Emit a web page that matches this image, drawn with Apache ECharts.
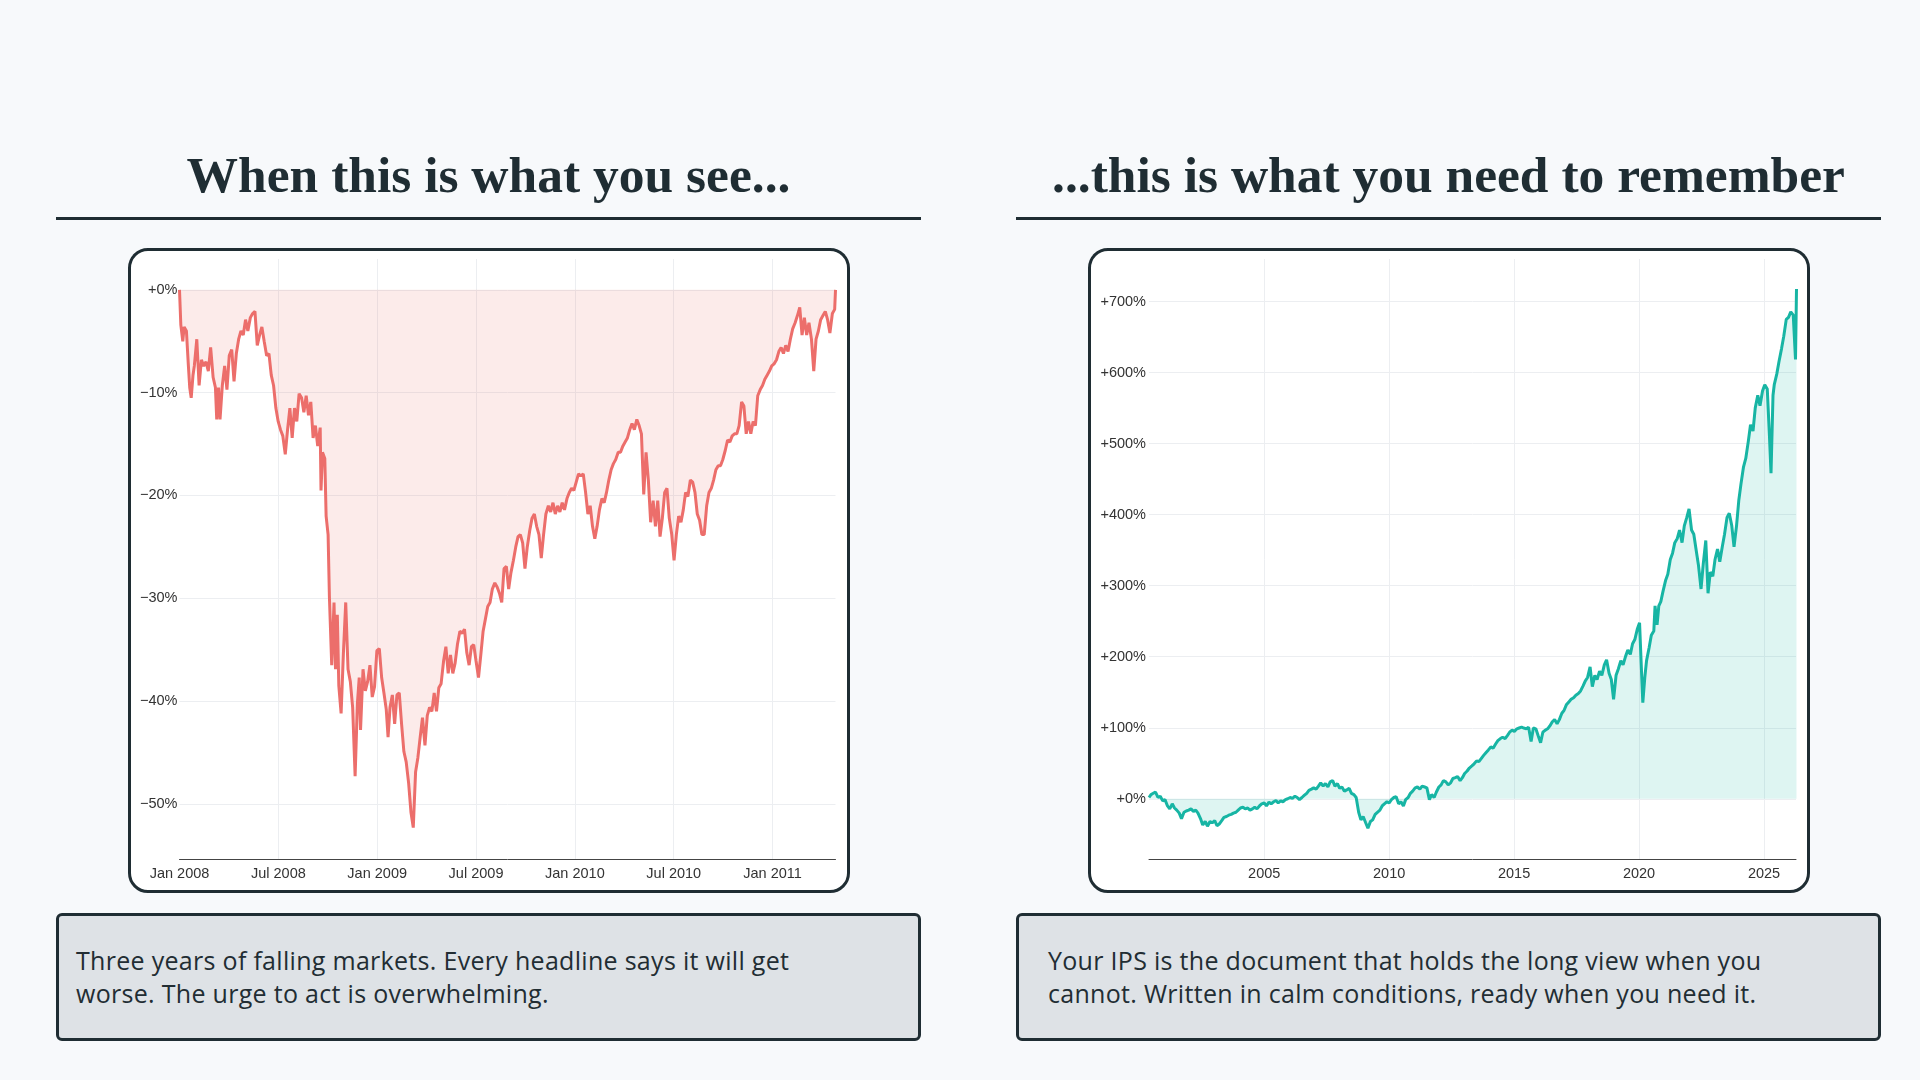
<!DOCTYPE html>
<html>
<head>
<meta charset="utf-8">
<title>When this is what you see</title>
<script src="https://cdn.jsdelivr.net/npm/echarts@6/dist/echarts.min.js"></script>
<style>
  html, body { margin: 0; padding: 0; }
  body {
    width: 1920px;
    height: 1080px;
    background: #f7f9fb;
    position: relative;
    overflow: hidden;
  }
  .title {
    position: absolute;
    top: 149px;
    width: 865px;
    text-align: center;
    font-family: "Liberation Serif", serif;
    font-weight: 700;
    font-size: 51.5px;
    line-height: 51px;
    color: #1f2d33;
    white-space: nowrap;
  }
  .rule {
    position: absolute;
    top: 217px;
    width: 865px;
    height: 3px;
    background: #1f2d33;
  }
  .card {
    position: absolute;
    top: 248px;
    width: 722px;
    height: 645px;
    box-sizing: border-box;
    border: 3px solid #1f2d33;
    border-radius: 20px;
    background: #ffffff;
  }
  .chart {
    position: absolute;
    top: 248px;
    width: 722px;
    height: 645px;
  }
  .note {
    position: absolute;
    top: 913px;
    width: 865px;
    height: 128px;
    box-sizing: border-box;
    border: 3px solid #1f2d33;
    border-radius: 6px;
    background: #dee2e6;
    display: flex;
    align-items: center;
    font-family: "Open Sans", sans-serif;
    font-size: 25px;
    letter-spacing: 0.3px;
    line-height: 33px;
    color: #222d33;
  }
</style>
</head>
<body>
  <div class="title" style="left:56px">When this is what you see...</div>
  <div class="rule" style="left:56px"></div>
  <div class="title" style="left:1016px">...this is what you need to remember</div>
  <div class="rule" style="left:1016px"></div>

  <div class="card" style="left:128px"></div>
  <div class="card" style="left:1088px"></div>
  <div id="drawdown" class="chart" style="left:128px"></div>
  <div id="growth" class="chart" style="left:1088px"></div>

  <div class="note" style="left:56px; padding-left:17px">
    <div>Three years of falling markets. Every headline says it will get<br>worse. The urge to act is overwhelming.</div>
  </div>
  <div class="note" style="left:1016px; padding-left:29px">
    <div>Your IPS is the document that holds the long view when you<br>cannot. Written in calm conditions, ready when you need it.</div>
  </div>

<script>
// left panel: drawdown from Jan 2008, x = months since Jan 2008
const ddMonths = [
  0.00, 0.08, 0.20, 0.28, 0.42, 0.54, 0.62, 0.71, 0.82, 0.90,
  1.05, 1.19, 1.33, 1.47, 1.61, 1.75, 1.89,
  2.04, 2.18, 2.26, 2.37, 2.46, 2.60, 2.74, 2.88,
  3.02, 3.17, 3.31, 3.45, 3.59, 3.73, 3.87,
  4.01, 4.15, 4.30, 4.44, 4.58, 4.72, 4.86,
  5.00, 5.14, 5.29, 5.43, 5.57, 5.71, 5.85, 5.99,
  6.13, 6.27, 6.42, 6.56, 6.70, 6.84, 6.98,
  7.12, 7.26, 7.41, 7.55, 7.69, 7.83, 7.97,
  8.11, 8.25, 8.39, 8.54, 8.59, 8.68, 8.82, 8.90,
  9.02, 9.10, 9.24, 9.38, 9.47, 9.58, 9.67, 9.81, 9.95,
  10.09, 10.23, 10.37, 10.51, 10.66, 10.80, 10.91, 10.99,
  11.14, 11.28, 11.42, 11.56, 11.70, 11.84, 11.98,
  12.13, 12.27, 12.41, 12.55, 12.66, 12.78, 12.92,
  13.06, 13.20, 13.34, 13.48, 13.62, 13.76, 13.91,
  14.05, 14.19, 14.33, 14.47, 14.61, 14.75, 14.90,
  15.04, 15.18, 15.32, 15.46, 15.60, 15.74, 15.88,
  16.03, 16.17, 16.31, 16.45, 16.59, 16.73, 16.87,
  17.02, 17.16, 17.30, 17.44, 17.58, 17.72, 17.86,
  18.00, 18.15, 18.29, 18.43, 18.57, 18.71, 18.85,
  18.99, 19.14, 19.28, 19.42, 19.56, 19.70, 19.84, 19.98,
  20.12, 20.27, 20.41, 20.55, 20.69, 20.83, 20.97,
  21.11, 21.26, 21.40, 21.54, 21.68, 21.82, 21.96,
  22.10, 22.24, 22.39, 22.53, 22.67, 22.81, 22.95,
  23.09, 23.23, 23.37, 23.52, 23.66, 23.80, 23.94,
  24.08, 24.22, 24.36, 24.51, 24.65, 24.79, 24.93,
  25.07, 25.21, 25.35, 25.49, 25.64, 25.78, 25.92,
  26.06, 26.20, 26.34, 26.48, 26.63, 26.77, 26.91,
  27.05, 27.19, 27.33, 27.47, 27.61, 27.76, 27.90,
  28.04, 28.18, 28.32, 28.46, 28.60, 28.75, 28.89,
  29.03, 29.17, 29.31, 29.45, 29.59, 29.73, 29.88,
  30.02, 30.16, 30.30, 30.44, 30.58, 30.72, 30.86,
  31.01, 31.15, 31.29, 31.43, 31.57, 31.71, 31.85,
  32.00, 32.14, 32.28, 32.42, 32.56, 32.70, 32.84, 32.98,
  33.13, 33.27, 33.41, 33.55, 33.69, 33.83, 33.97,
  34.12, 34.26, 34.40, 34.54, 34.68, 34.82, 34.96,
  35.10, 35.25, 35.39, 35.53, 35.67, 35.81, 35.95,
  36.09, 36.24, 36.38, 36.52, 36.66, 36.80, 36.94,
  37.08, 37.22, 37.37, 37.51, 37.65, 37.79, 37.93,
  38.07, 38.21, 38.36, 38.50, 38.64, 38.78, 38.92,
  39.06, 39.20, 39.34, 39.48, 39.63, 39.77, 39.82
];
const ddValues = [
  0, -3.4, -5.0, -3.6, -4.0, -7.4, -9.5, -10.5, -8.3, -7.4,
  -4.8, -9.3, -6.8, -7.4, -7.0, -7.9, -5.6,
  -8.5, -9.5, -12.6, -9.5, -12.6, -9.3, -7.4, -9.7,
  -6.4, -5.8, -8.9, -6.2, -4.8, -4.0, -4.4,
  -2.9, -4.0, -2.7, -2.3, -2.1, -5.4, -4.4,
  -3.6, -5.0, -6.4, -6.2, -8.3, -9.3, -11.5, -12.8,
  -13.6, -14.2, -16.0, -13.6, -11.5, -14.4, -11.5,
  -12.8, -10.1, -10.5, -11.9, -10.3, -12.2, -10.9,
  -14.4, -13.2, -15.2, -13.4, -19.5, -15.8, -16.4, -22.0,
  -23.8, -29.9, -36.5, -30.4, -36.9, -31.6, -38.5, -41.2, -35.3,
  -30.4, -36.9, -38.1, -40.6, -47.3, -40.2, -37.7, -42.8,
  -36.9, -39.0, -38.1, -36.5, -39.6, -38.6, -35.1,
  -34.9, -37.7, -39.2, -40.8, -43.5, -40.6, -39.4,
  -42.2, -39.4, -39.2, -42.2, -44.9, -45.9, -48.0,
  -50.8, -52.3, -46.9, -45.5, -43.5, -41.6, -44.3,
  -41.4, -40.6, -41.0, -39.2, -41.0, -38.7, -38.3,
  -36.1, -34.7, -37.3, -35.5, -37.3, -36.3, -34.5,
  -33.2, -33.4, -33.0, -35.3, -36.5, -34.7, -34.5,
  -36.1, -37.7, -35.5, -33.2, -32.0, -30.8, -30.4,
  -29.1, -28.5, -28.9, -29.5, -30.4, -27.1, -26.9, -29.1,
  -27.5, -26.3, -25.0, -24.0, -23.8, -24.6, -27.1,
  -25.0, -23.4, -22.2, -21.8, -23.0, -23.8, -26.1,
  -23.8, -21.8, -21.0, -21.6, -20.7, -21.8, -21.0,
  -21.6, -20.7, -21.4, -20.3, -19.7, -19.3, -19.5,
  -18.7, -17.9, -18.1, -17.9, -19.7, -21.8, -21.0,
  -23.0, -24.2, -23.0, -21.4, -20.3, -20.7, -19.7,
  -18.5, -17.5, -16.9, -16.5, -15.8, -15.8, -15.2,
  -14.8, -14.4, -13.6, -13.0, -13.6, -12.6, -13.2,
  -14.0, -19.9, -15.8, -18.5, -22.6, -20.5, -23.0,
  -20.5, -24.0, -22.2, -19.7, -19.3, -22.2, -23.8,
  -26.3, -23.8, -22.0, -22.6, -21.4, -19.7, -20.1,
  -18.5, -18.7, -19.7, -21.8, -22.4, -23.8, -23.8,
  -21.0, -19.7, -19.3, -18.5, -17.5, -17.1, -17.1, -16.5,
  -15.6, -14.6, -14.8, -14.2, -14.0, -14.0, -13.2,
  -10.9, -11.3, -14.0, -12.8, -14.0, -12.8, -13.2,
  -10.3, -9.7, -9.3, -8.7, -8.3, -7.9, -7.4,
  -7.2, -6.8, -6.0, -5.6, -6.2, -5.4, -6.0,
  -4.8, -3.8, -3.2, -2.5, -1.7, -4.4, -2.7,
  -4.4, -3.2, -4.8, -7.9, -4.8, -4.0, -2.9,
  -2.5, -2.1, -2.9, -4.2, -2.3, -1.9, 0
];
const ddTickLabels = ['Jan 2008', 'Jul 2008', 'Jan 2009', 'Jul 2009', 'Jan 2010', 'Jul 2010', 'Jan 2011'];

// right panel: cumulative growth, x = decimal year
const grYears = [
  2000.39, 2000.47, 2000.56, 2000.65, 2000.75, 2000.84, 2000.94,
  2001.03, 2001.13, 2001.22, 2001.32, 2001.41, 2001.50, 2001.60, 2001.69, 2001.79, 2001.88, 2001.98,
  2002.07, 2002.17, 2002.26, 2002.35, 2002.45, 2002.54, 2002.64, 2002.73, 2002.83, 2002.92,
  2003.02, 2003.11, 2003.20, 2003.30, 2003.39, 2003.49, 2003.58, 2003.68, 2003.77, 2003.87, 2003.96,
  2004.05, 2004.15, 2004.24, 2004.34, 2004.43, 2004.53, 2004.62, 2004.71, 2004.81, 2004.90,
  2005.00, 2005.09, 2005.19, 2005.28, 2005.38, 2005.47, 2005.56, 2005.66, 2005.75, 2005.85, 2005.94,
  2006.04, 2006.13, 2006.23, 2006.32, 2006.41, 2006.51, 2006.60, 2006.70, 2006.79, 2006.89, 2006.98,
  2007.08, 2007.17, 2007.26, 2007.36, 2007.45, 2007.55, 2007.64, 2007.74, 2007.83, 2007.93,
  2008.02, 2008.11, 2008.21, 2008.30, 2008.40, 2008.49, 2008.59, 2008.68, 2008.78, 2008.87, 2008.96,
  2009.06, 2009.15, 2009.25, 2009.34, 2009.44, 2009.53, 2009.63, 2009.72, 2009.81, 2009.91,
  2010.00, 2010.09, 2010.19, 2010.28, 2010.38, 2010.47, 2010.57, 2010.66, 2010.76, 2010.85, 2010.94,
  2011.04, 2011.13, 2011.23, 2011.32, 2011.42, 2011.51, 2011.61, 2011.70, 2011.80, 2011.89, 2011.99,
  2012.08, 2012.17, 2012.27, 2012.36, 2012.46, 2012.55, 2012.65, 2012.74, 2012.84, 2012.93,
  2013.02, 2013.12, 2013.21, 2013.31, 2013.40, 2013.50, 2013.59, 2013.69, 2013.78, 2013.88, 2013.97,
  2014.07, 2014.16, 2014.26, 2014.35, 2014.45, 2014.54, 2014.64, 2014.73, 2014.82, 2014.92,
  2015.01, 2015.11, 2015.20, 2015.30, 2015.39, 2015.49, 2015.58, 2015.68, 2015.77, 2015.87, 2015.96,
  2016.06, 2016.15, 2016.25, 2016.34, 2016.43, 2016.53, 2016.62, 2016.72, 2016.81, 2016.91,
  2017.00, 2017.09, 2017.19, 2017.28, 2017.38, 2017.47, 2017.57, 2017.66, 2017.76, 2017.85, 2017.94,
  2018.04, 2018.13, 2018.23, 2018.32, 2018.42, 2018.51, 2018.61, 2018.70, 2018.80, 2018.89, 2018.98,
  2019.08, 2019.17, 2019.27, 2019.36, 2019.46, 2019.55, 2019.65, 2019.74, 2019.83, 2019.93,
  2020.02, 2020.08, 2020.15, 2020.23, 2020.30, 2020.40, 2020.49, 2020.59, 2020.64, 2020.72, 2020.79, 2020.87, 2020.96,
  2021.06, 2021.15, 2021.25, 2021.34, 2021.43, 2021.53, 2021.62, 2021.72, 2021.81, 2021.91,
  2022.00, 2022.10, 2022.19, 2022.29, 2022.38, 2022.48, 2022.57, 2022.67, 2022.76, 2022.85, 2022.95,
  2023.04, 2023.14, 2023.23, 2023.33, 2023.42, 2023.52, 2023.61, 2023.71, 2023.80, 2023.90, 2023.99,
  2024.08, 2024.18, 2024.27, 2024.37, 2024.46, 2024.56, 2024.65, 2024.75, 2024.84, 2024.94,
  2025.03, 2025.13, 2025.22, 2025.28, 2025.36, 2025.41, 2025.51, 2025.60, 2025.70, 2025.79, 2025.89, 2025.98,
  2026.07, 2026.17, 2026.26, 2026.30
];
const grValues = [
  1.8, 5.9, 7.7, 9.5, 1.8, 3.6, -3.0,
  -1.2, -10.1, -14.2, -7.1, -13.0, -16.0, -20.2, -27.9, -19.0, -17.2, -16.0,
  -14.2, -17.8, -16.0, -20.2, -27.9, -36.8, -32.0, -38.6, -32.0, -33.8,
  -30.8, -38.0, -35.6, -30.8, -26.1, -24.9, -23.1, -21.9, -20.2, -19.0, -16.0,
  -13.0, -11.9, -14.2, -13.0, -16.0, -14.2, -11.9, -14.2, -10.1, -7.1,
  -5.9, -10.1, -4.7, -7.1, -4.2, -2.4, -5.9, -3.0, -4.2, -1.2, 0,
  1.8, 0.6, 3.6, 1.8, -1.2, 1.8, 4.7, 7.7, 11.9, 13.6, 15.4,
  13.6, 17.8, 22.5, 17.8, 21.4, 16.6, 23.7, 25.5, 17.8, 21.4,
  14.8, 16.6, 10.7, 12.5, 14.8, 7.7, 5.9, 1.8, -19.0, -29.7, -24.9,
  -33.8, -41.5, -32.0, -29.7, -21.9, -19.0, -16.0, -10.1, -7.1, -4.2,
  -5.9, -1.2, 1.8, 3.0, -7.1, -4.2, -10.1, -1.2, 1.8, 7.7, 10.7,
  15.4, 16.6, 13.6, 17.8, 16.6, 15.4, -1.2, 5.9, 1.8, 9.5, 16.6,
  19.6, 25.5, 23.7, 19.6, 22.5, 28.5, 29.7, 31.4, 25.5, 29.7,
  35.6, 39.1, 43.3, 46.3, 49.2, 53.4, 52.2, 56.9, 61.1, 65.2, 68.8,
  73.0, 71.2, 77.1, 81.9, 84.8, 86.6, 84.8, 89.0, 93.7, 96.7,
  94.9, 98.5, 99.6, 100.8, 99.6, 98.5, 100.8, 80.7, 99.6, 98.5, 89.0,
  78.9, 93.7, 96.7, 98.5, 102.6, 108.5, 111.5, 105.6, 111.5, 120.4,
  124.6, 132.3, 136.4, 140.0, 142.3, 145.9, 148.3, 151.8, 159.0, 166.1, 170.8,
  185.6, 157.8, 173.8, 167.9, 179.7, 173.8, 188.6, 195.7, 176.7, 167.9, 140.0,
  173.8, 182.7, 194.5, 188.6, 200.5, 209.4, 203.4, 218.3, 224.2, 239.0,
  247.9, 194.5, 135.2, 170.8, 194.5, 212.3, 230.1, 236.1, 271.6, 245.0, 271.6, 277.6, 292.4,
  307.2, 316.1, 336.9, 345.8, 360.6, 366.5, 378.4, 360.6, 384.3, 396.2,
  408.1, 378.4, 372.5, 348.8, 328.0, 295.4, 331.0, 363.6, 289.4, 319.1, 313.2,
  336.9, 351.7, 333.9, 354.7, 372.5, 396.2, 402.1, 384.3, 354.7, 384.3, 419.9,
  443.7, 467.4, 479.2, 502.9, 526.7, 517.8, 550.4, 568.2, 553.4, 574.1,
  583.0, 577.1, 508.9, 458.5, 568.2, 583.0, 597.9, 615.7, 633.5, 651.3, 675.0, 677.9,
  685.6, 681.0, 618.6, 717.7
];

if (ddMonths.length !== ddValues.length) throw new Error('drawdown arrays differ: ' + ddMonths.length + ' vs ' + ddValues.length);
if (grYears.length !== grValues.length) throw new Error('growth arrays differ: ' + grYears.length + ' vs ' + grValues.length);

const labelFont = { fontFamily: '"Liberation Sans", Arial, sans-serif', fontSize: 14.5, color: '#333333' };
const gridLine = { lineStyle: { color: '#eceef1', width: 1 }, showMinLine: false, showMaxLine: false };
const bottomAxisLine = { show: true, onZero: false, lineStyle: { color: '#444444', width: 1 } };

// only label the round steps, ECharts also hands us the axis ends
function pctLabel(v, step) {
  const k = v / step;
  if (Math.abs(k - Math.round(k)) > 1e-6) return '';
  const n = Math.round(v);
  if (n === 0) return '+0%';
  return (n > 0 ? '+' : '\u2212') + Math.abs(n) + '%';
}

function lineSeries(xs, ys, color, fill) {
  return {
    type: 'line',
    data: xs.map((x, i) => [x, ys[i]]),
    showSymbol: false,
    symbol: 'none',
    smooth: false,
    lineStyle: { color: color, width: 3 },
    itemStyle: { color: color },
    areaStyle: { color: fill, origin: 0 },
    z: 3
  };
}

const drawdown = echarts.init(document.getElementById('drawdown'));
drawdown.setOption({
  animation: false,
  grid: { left: 51.5, right: 14.5, top: 11, bottom: 33.5, outerBoundsMode: 'none' },
  xAxis: {
    type: 'value',
    min: 0,
    max: 39.82,
    interval: 6,
    axisLine: bottomAxisLine,
    axisTick: { show: false },
    axisLabel: Object.assign({}, labelFont, {
      margin: 7,
      formatter: v => {
        const k = v / 6;
        return Math.abs(k - Math.round(k)) < 1e-6 ? (ddTickLabels[Math.round(k)] || '') : '';
      }
    }),
    splitLine: Object.assign({ show: true }, gridLine)
  },
  yAxis: {
    type: 'value',
    min: -55.4,
    max: 3.0,
    splitNumber: 6,
    minInterval: 10,
    maxInterval: 10,
    axisLine: { show: false },
    axisTick: { show: false },
    axisLabel: Object.assign({}, labelFont, { margin: 2, formatter: v => pctLabel(v, 10) }),
    splitLine: Object.assign({ show: true }, gridLine)
  },
  series: [lineSeries(ddMonths, ddValues, '#ec6e6b', 'rgba(236,110,107,0.2)')]
});

const growth = echarts.init(document.getElementById('growth'));
growth.setOption({
  animation: false,
  grid: { left: 61, right: 14, top: 11, bottom: 33.5, outerBoundsMode: 'none' },
  xAxis: {
    type: 'value',
    min: 2000.39,
    max: 2026.28,
    splitNumber: 5,
    minInterval: 5,
    maxInterval: 5,
    axisLine: bottomAxisLine,
    axisTick: { show: false },
    axisLabel: Object.assign({}, labelFont, {
      margin: 7,
      formatter: v => (Math.abs(v / 5 - Math.round(v / 5)) < 1e-6 ? String(Math.round(v)) : '')
    }),
    splitLine: Object.assign({ show: true }, gridLine)
  },
  yAxis: {
    type: 'value',
    min: -85.5,
    max: 760,
    splitNumber: 8,
    minInterval: 100,
    maxInterval: 100,
    axisLine: { show: false },
    axisTick: { show: false },
    axisLabel: Object.assign({}, labelFont, { margin: 3, formatter: v => pctLabel(v, 100) }),
    splitLine: Object.assign({ show: true }, gridLine)
  },
  series: [lineSeries(grYears, grValues, '#17b5a4', 'rgba(23,181,164,0.2)')]
});
</script>
</body>
</html>
